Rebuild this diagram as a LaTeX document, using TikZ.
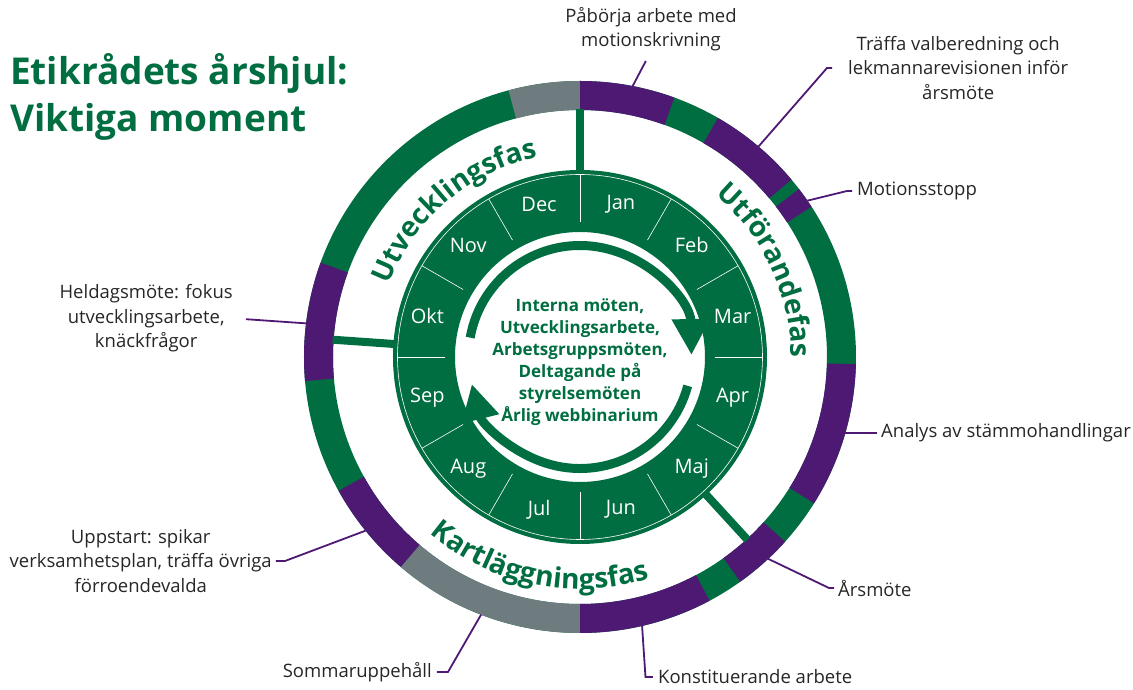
\documentclass[tikz,border=0pt]{standalone}
\usepackage{fontspec}
\setmainfont{Open Sans}
\usetikzlibrary{arrows.meta,decorations.text}
\definecolor{hjulgreen}{RGB}{0,110,64}
\definecolor{hjulpurple}{RGB}{78,25,115}
\definecolor{hjulgray}{RGB}{111,124,127}
\definecolor{lblgray}{RGB}{38,38,38}
\tikzset{
  lbl/.style={font=\fontsize{18.5}{24.5}\selectfont,text=lblgray,align=center,inner sep=0pt},
  con/.style={hjulpurple,line width=1.8pt},
  spoke/.style={hjulgreen,line width=8pt},
  fas/.style={decorate,decoration={text along path,text align=center,text color=hjulgreen}},
  pil/.style={hjulgreen,line width=9pt,-{Triangle[width=36pt,length=36pt]}},
}
\begin{document}
\begin{tikzpicture}[x=1pt,y=1pt]
\useasboundingbox (-580,-333) rectangle (553,357);
\node[anchor=north west,inner sep=0pt,align=left,text=hjulgreen,font=\fontsize{37}{47}\selectfont\bfseries] (titel) at (-570,304) {Etikrådets årshjul:\\Viktiga moment};
\fill[hjulgreen,even odd rule] (0,0) circle[radius=276] circle[radius=247];
\foreach \c/\a/\b in {hjulpurple/70/90,hjulpurple/40/60,hjulpurple/33/37.5,hjulpurple/-32/-1.5,hjulpurple/-54.5/-42,hjulpurple/-90/-62,hjulgray/-130.5/-90,hjulpurple/-151/-130.5,hjulpurple/160/185,hjulgray/90/105}{\fill[\c] (\a:276) arc[start angle=\a,end angle=\b,radius=276] -- (\b:247) arc[start angle=\b,end angle=\a,radius=247] -- cycle;}
\fill[hjulgreen,even odd rule] (0,0) circle[radius=187] circle[radius=125];
\draw[white,line width=.6pt] (0,0) circle[radius=182.5];
\foreach \a in {0,30,...,330}{\draw[white,line width=.6pt] (\a:135) -- (\a:182.5);}
\foreach \m [count=\i] in {Jan,Feb,Mar,Apr,Maj,Jun,Jul,Aug,Sep,Okt,Nov,Dec}{\node[text=white,font=\fontsize{20}{20}\selectfont] (m\i) at ({105-30*\i}:158) {\m};}
\foreach \a in {90,176,-47.5}{\draw[spoke] (\a:186) -- (\a:248);}
\path[fas,decoration={text={|\fontsize{28}{28}\selectfont\bfseries|Utvecklingsfas}}] (175:204) arc[start angle=175,end angle=86,radius=204];
\path[fas,decoration={text={|\fontsize{28}{28}\selectfont\bfseries|Utförandefas}}] (70:211) arc[start angle=70,end angle=-20,radius=211];
\path[fas,decoration={text={|\fontsize{28}{28}\selectfont\bfseries|Kartläggningsfas}}] (218:232) arc[start angle=218,end angle=299,radius=232];
\draw[pil] (170:111.5) arc[start angle=170,end angle=1,radius=111.5];
\draw[pil] (345:111.5) arc[start angle=345,end angle=194,radius=111.5];
\node[align=center,text=hjulgreen,font=\fontsize{17}{22}\selectfont\bfseries] (mitt) at (0,-5) {Interna möten,\\Utvecklingsarbete,\\Arbetsgruppsmöten,\\Deltagande på\\styrelsemöten\\Årlig webbinarium};
\coordinate (pabr) at (79:276);
\coordinate (trfr) at (49.7:276);
\coordinate (motr) at (34.5:276);
\coordinate (anar) at (-16:276);
\coordinate (arsr) at (-47:276);
\coordinate (konr) at (-77:276);
\coordinate (somr) at (249:276);
\coordinate (uppr) at (219:276);
\coordinate (helr) at (173:276);
\node[lbl] (pab) at (71,328) {Påbörja arbete med\\motionskrivning};
\node[lbl,anchor=west] (trf) at (268,289) {Träffa valberedning och\\lekmannarevisionen inför\\årsmöte};
\node[lbl,anchor=west] (mot) at (277,166) {Motionsstopp};
\node[lbl,anchor=west] (ana) at (301,-76) {Analys av stämmohandlingar};
\node[lbl,anchor=west] (ars) at (258,-231) {Årsmöte};
\node[lbl,anchor=west] (kon) at (78,-320) {Konstituerande arbete};
\node[lbl,anchor=east] (som) at (-148,-315) {Sommaruppehåll};
\node[lbl,anchor=east] (upp) at (-308,-204) {Uppstart: spikar\\verksamhetsplan, träffa övriga\\förroendevalda};
\node[lbl,anchor=east] (hel) at (-347,38.7) {Heldagsmöte: fokus\\utvecklingsarbete,\\knäckfrågor};
\draw[con,shorten >=11pt] (pabr) -- (pab.south);
\draw[con] (trfr) -- ([xshift=-21pt]trf.west) -- ([xshift=-16pt]trf.west);
\draw[con] (motr) -- ([xshift=-10pt]mot.west) -- ([xshift=-5pt]mot.west);
\draw[con,shorten >=4pt] (anar) -- (anar -| ana.west);
\draw[con] (arsr) -- ([xshift=-9pt]ars.west) -- ([xshift=-4pt]ars.west);
\draw[con] (konr) -- ([xshift=-12.5pt]kon.west) -- ([xshift=-5pt]kon.west);
\draw[con] (somr) -- ([xshift=16pt]som.east) -- ([xshift=5pt]som.east);
\draw[con] (uppr) -- ([xshift=13pt]upp.east) -- ([xshift=4pt]upp.east);
\draw[con,shorten >=13pt] (helr) -- (hel.east);
\end{tikzpicture}
\end{document}
